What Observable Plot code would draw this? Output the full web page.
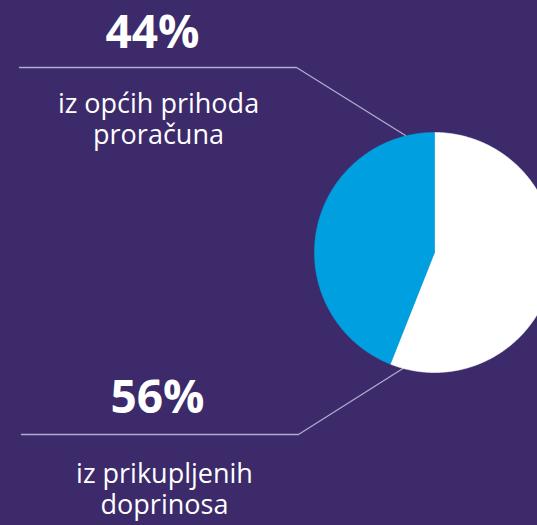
<!DOCTYPE html>
<html>
<head>
<meta charset="utf-8">
<script src="https://cdn.jsdelivr.net/npm/d3@7"></script>
<script src="https://cdn.jsdelivr.net/npm/@observablehq/plot@0.6"></script>
<style>
  html, body { margin: 0; padding: 0; background: #3c2a6a; overflow: hidden; }
</style>
</head>
<body>
<div id="chart"></div>
<script>
// ---- data ----
const categories = [["iz općih prihoda", "proračuna"], ["iz prikupljenih", "doprinosa"]];
const shares = [44, 56];
const sliceColors = ["#009fe0", "#ffffff"];

// ---- layout (pixels) ----
const W = 537, H = 525;
const pieCenter = [434, 252], pieRadius = 120;
const pctPos = [[152, 47], [157, 412]];
const subX = [158, 164];
const subBaselines = [[112, 143], [482, 513]];
const leaderPaths = [
  [[19, 67], [296, 67], [405, 135]],
  [[21, 434], [298, 434], [404, 367]]
];
const bg = "#3c2a6a";

// pie slices: clockwise from 12 o'clock, white (56%) first then blue (44%)
const order = [1, 0];
const arcs = d3.pie().sort(null).value(i => shares[i])(order);
const polys = [];
arcs.forEach(a => {
  const i = a.data;
  const pts = [[pieCenter[0], pieCenter[1]]];
  const n = Math.max(2, Math.ceil((a.endAngle - a.startAngle) / (Math.PI / 360)));
  for (let k = 0; k <= n; k++) {
    const t = a.startAngle + (a.endAngle - a.startAngle) * k / n;
    pts.push([pieCenter[0] + pieRadius * Math.sin(t), pieCenter[1] - pieRadius * Math.cos(t)]);
  }
  pts.push([pieCenter[0], pieCenter[1]]);
  pts.forEach(p => polys.push({x: p[0], y: p[1], key: "s" + i, color: sliceColors[i]}));
});

const leaders = [];
leaderPaths.forEach((path, i) => path.forEach(p => leaders.push({x: p[0], y: p[1], key: "l" + i})));

const pctLabels = shares.map((v, i) => ({x: pctPos[i][0], y: pctPos[i][1], text: v + "%"}));
const subLabels = [];
categories.forEach((lines, i) => lines.forEach((t, j) => subLabels.push({x: subX[i], y: subBaselines[i][j], text: t})));

const chart = Plot.plot({
  width: W,
  height: H,
  margin: 0,
  x: {domain: [0, W], range: [0, W], axis: null},
  y: {domain: [0, H], range: [0, H], axis: null},
  color: {type: "identity"},
  style: {background: bg, fontFamily: "'Open Sans', sans-serif", overflow: "hidden"},
  marks: [
    Plot.line(leaders, {x: "x", y: "y", z: "key", stroke: "#b3abd0", strokeWidth: 1.3, curve: "linear"}),
    Plot.line(polys, {x: "x", y: "y", z: "key", fill: "color", stroke: "color", strokeWidth: 0.6, curve: "linear"}),
    Plot.text(pctLabels, {x: "x", y: "y", text: "text", fill: "white", fontSize: 46, fontWeight: "bold", lineAnchor: "bottom", textAnchor: "middle"}),
    Plot.text(subLabels, {x: "x", y: "y", text: "text", fill: "white", fontSize: 27, lineAnchor: "bottom", textAnchor: "middle"})
  ]
});
document.getElementById("chart").appendChild(chart);
</script>
</body>
</html>
